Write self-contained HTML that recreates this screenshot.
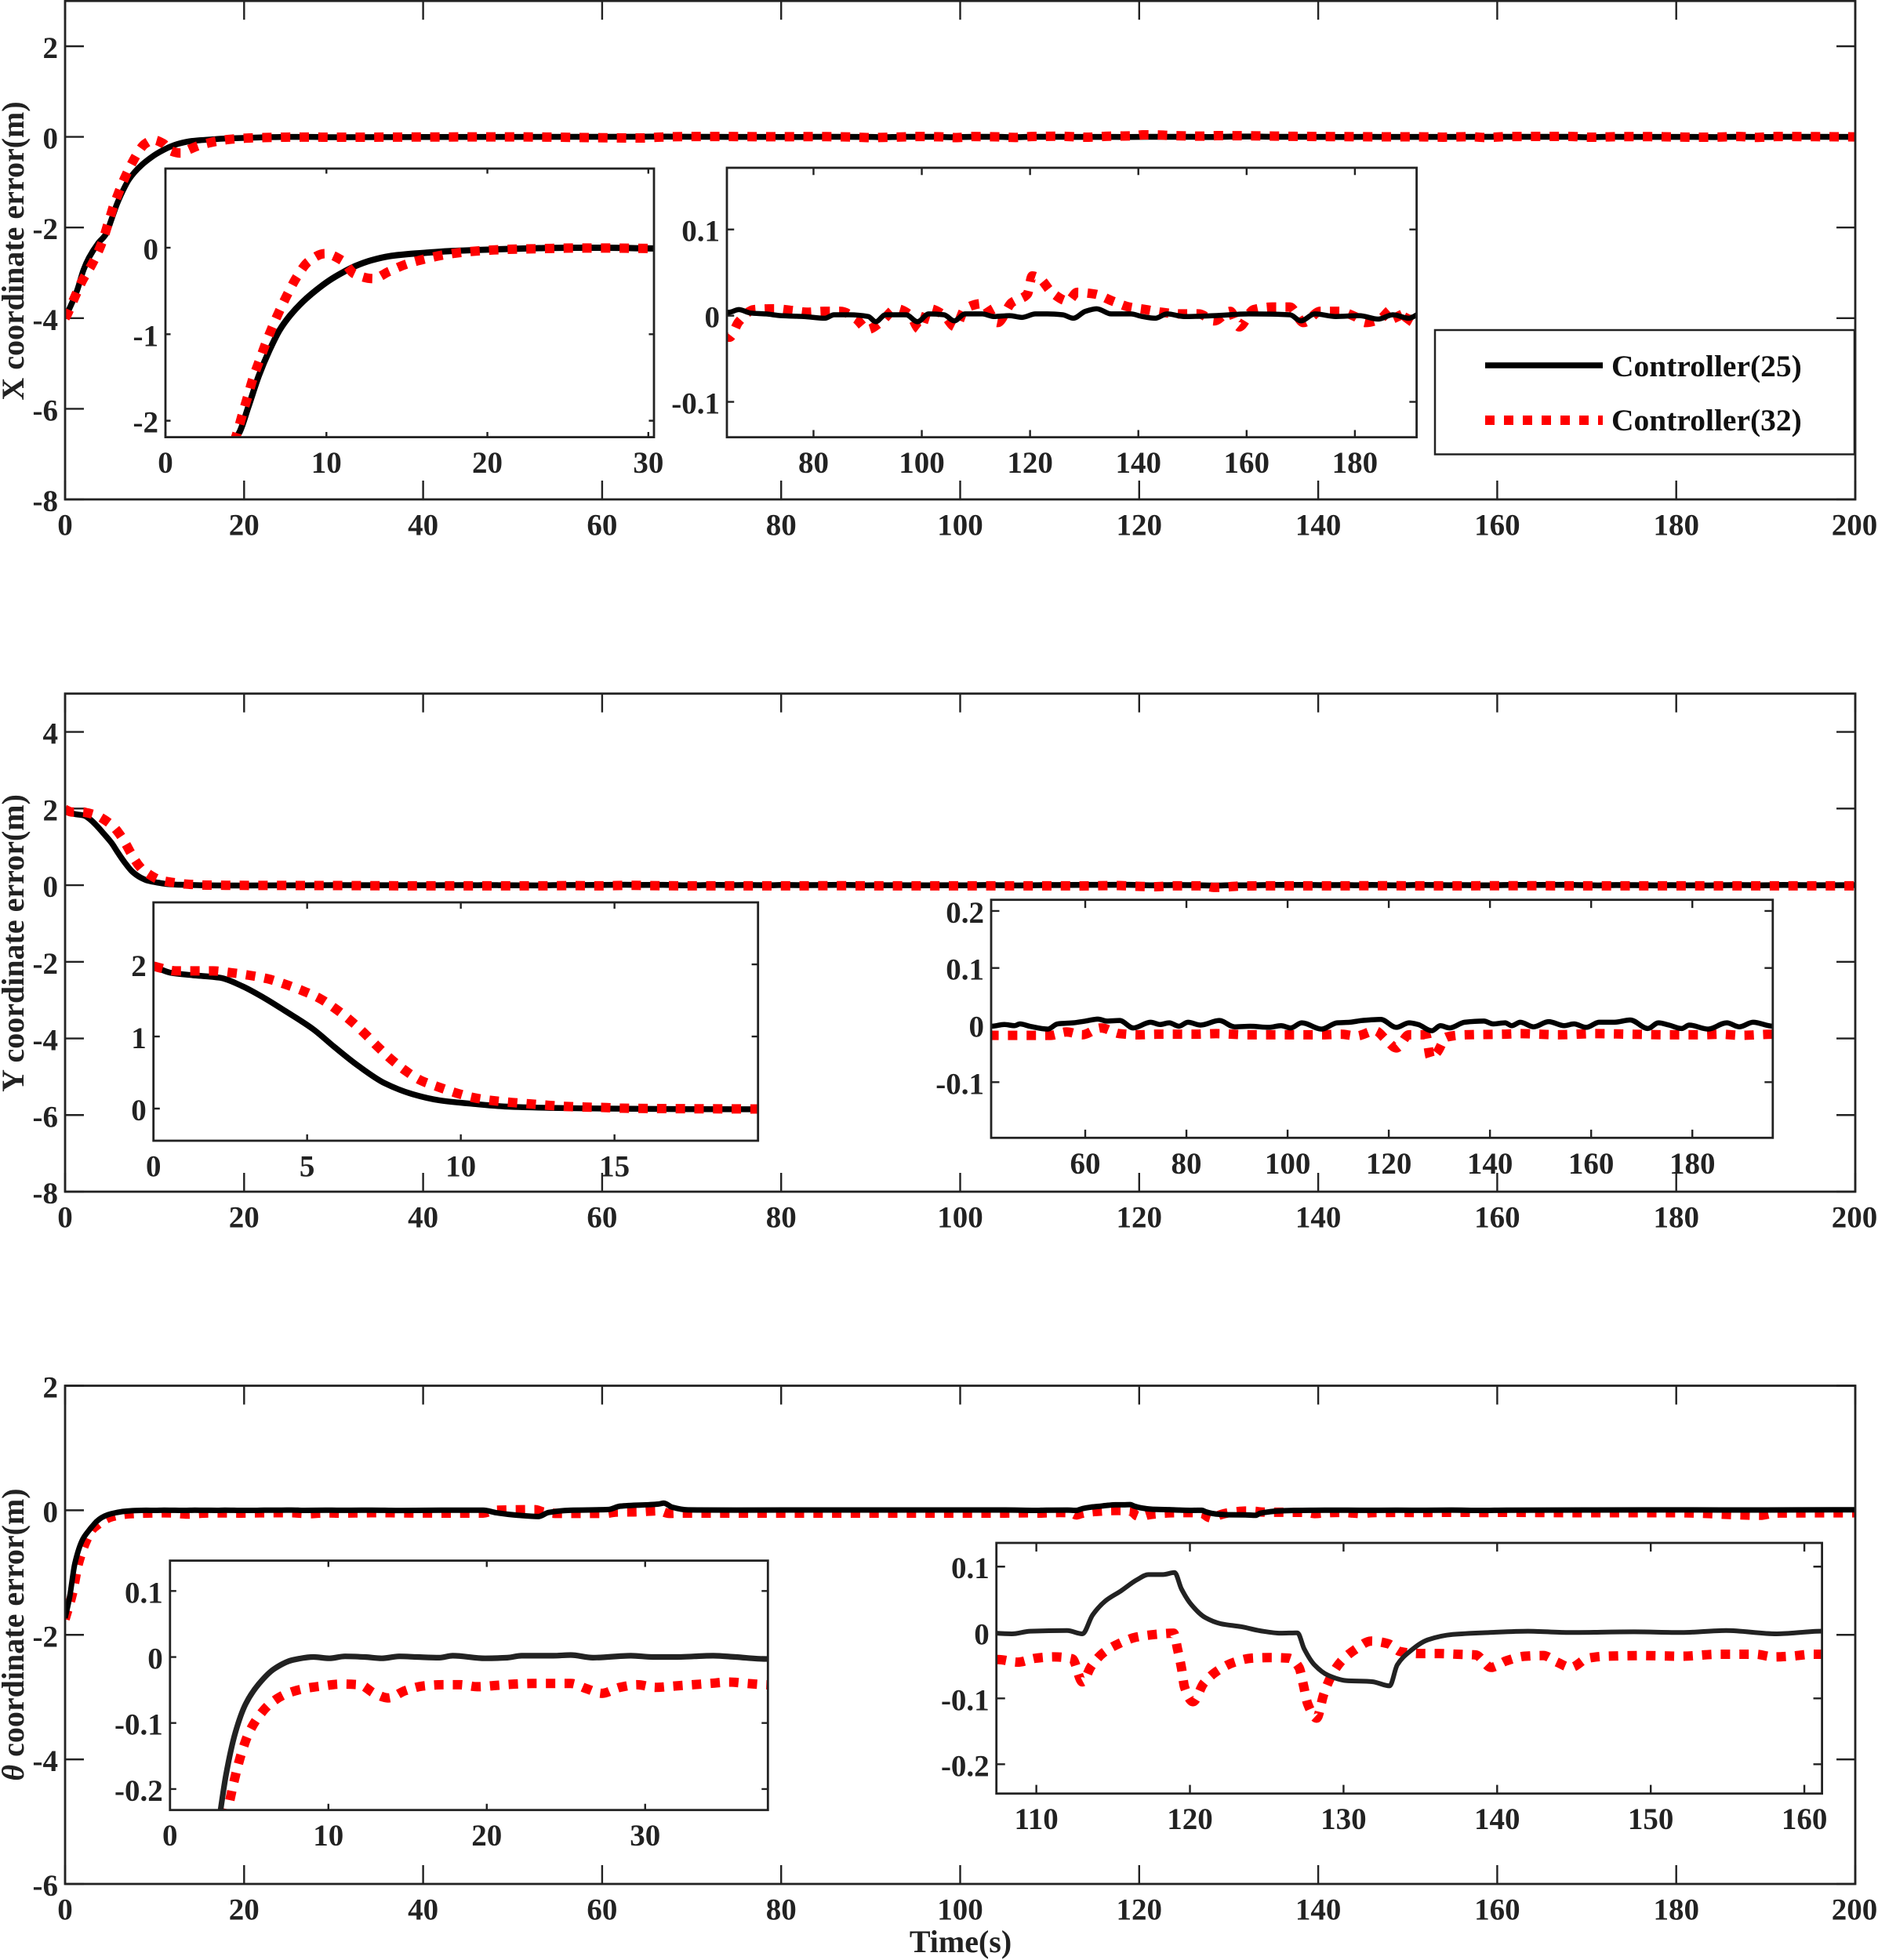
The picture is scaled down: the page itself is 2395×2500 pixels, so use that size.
<!DOCTYPE html>
<html lang="en">
<head>
<meta charset="utf-8">
<title>Coordinate error comparison</title>
<style>
html,body{margin:0;padding:0;background:#fff;overflow:hidden;}
svg{display:block;}
text{font-family:"Liberation Serif","DejaVu Serif",serif;font-weight:bold;fill:#222;}
.tick{font-size:39px;}
.lab{font-size:40px;}
.leg{font-size:39.5px;fill:#111;}
</style>
</head>
<body>
<svg id="chart" xmlns="http://www.w3.org/2000/svg" width="2395" height="2500" viewBox="0 0 2395 2500">
  <rect x="0" y="0" width="2395" height="2500" fill="#fff"/>
  <g id="plots"></g>
  <text class="lab" text-anchor="middle" transform="translate(30,320) rotate(-90)">X coordinate error(m)</text>
  <text class="lab" text-anchor="middle" transform="translate(30,1203) rotate(-90)">Y coordinate error(m)</text>
  <text class="lab" text-anchor="middle" transform="translate(30,2085) rotate(-90)"><tspan font-style="italic">θ</tspan> coordinate error(m)</text>
  <text class="lab" text-anchor="middle" x="1225" y="2490">Time(s)</text>
  <g>
    <rect x="1830" y="421" width="535" height="158.5" fill="#fff" stroke="#222" stroke-width="2.5"/>
    <line x1="1894" y1="466" x2="2044" y2="466" stroke="#000" stroke-width="7.5"/>
    <text class="leg" x="2055" y="480">Controller(25)</text>
    <line x1="1894" y1="536" x2="2044" y2="536" stroke="#f00" stroke-width="12" stroke-dasharray="12 12"/>
    <text class="leg" x="2055" y="549">Controller(32)</text>
  </g>
</svg>
<script>
// ---- X coordinate error data ----
const xCtrl25Time = [0,1.34,2.07,2.66,3.68,4.58,5.15,5.8,6.45,7.1,7.74,8.56,9.37,10.18,10.99,11.8,12.78,13.9,15.05,16.35,17.8,20.4,23.2,25.2,27.4,30.2,40,50,64.5,66.2,68.4,71.2,74,78.2,82.1,83.8,86.6,90.1,91.5,93.3,97.1,99.2,101.3,104.1,106,108,111.2,113.3,116.2,118.5,121,123.2,126,128,130.2,132.3,135,138.6,140.7,143.1,145.3,148.5,154,160.4,168,170,172.6,176.5,180.8,184.3,187,190,191.7,200];
const xCtrl25Err = [-4,-3.39,-2.93,-2.67,-2.35,-2.14,-1.84,-1.48,-1.19,-0.95,-0.784,-0.62,-0.49,-0.378,-0.288,-0.212,-0.146,-0.098,-0.074,-0.056,-0.038,-0.02,-0.005,0,0,-0.008,-0.002,0,0.004,0.007,0.003,0.002,0,-0.001,-0.003,0.001,0.001,-0.001,-0.007,0.001,0.001,-0.007,0.002,0.001,-0.006,0.002,0.002,-0.001,0,-0.002,0.002,0.002,0.001,-0.003,0.005,0.008,0.002,0.002,-0.001,-0.003,0.002,-0.001,0,0.002,0.001,-0.006,0.002,-0.001,0,-0.004,0.001,-0.003,0.002,0];
const xCtrl32Time = [0,0.23,1.05,1.93,2.95,3.88,4.47,4.79,5.11,5.44,5.83,6.23,6.66,7.13,7.63,8.18,8.88,9.9,10.96,11.75,12.9,13.9,15,16.1,17.2,18.3,19.5,20.6,21.8,23,24,25.2,27.4,30,40,50,64.5,66.2,69,72.8,76,78.8,82,85,87.9,90,92.5,95.3,97.8,99.6,101.4,104,106.2,108,111.2,114,116.6,119.5,120.4,121.8,124,127,128.7,132,135.2,138.3,141.4,144.2,147.7,151.2,154,157,158.6,161.3,164.7,168,170.5,173.6,177.1,180,182,184.6,187,188.9,191.2,200];
const xCtrl32Err = [-4,-3.92,-3.55,-3.17,-2.83,-2.45,-2.13,-1.92,-1.72,-1.51,-1.31,-1.107,-0.908,-0.712,-0.52,-0.333,-0.161,-0.068,-0.146,-0.303,-0.357,-0.273,-0.188,-0.131,-0.086,-0.056,-0.036,-0.024,-0.016,-0.012,-0.008,-0.004,-0.004,-0.008,-0.003,0,-0.025,-0.007,0.007,0.008,0.006,0.004,0.005,0.005,-0.004,-0.016,-0.007,0.008,0.001,-0.016,0.008,0.001,-0.013,0.008,0.014,-0.008,0.015,0.025,0.046,0.043,0.027,0.017,0.027,0.025,0.017,0.01,0.007,0.004,0.002,0.002,-0.006,0.005,-0.013,0.007,0.01,0.01,-0.008,0.005,0.005,-0.001,-0.008,-0.004,0.008,-0.011,0.008,0];

// ---- Y coordinate error data ----
const yCtrl25Time = [0,0.55,1.27,2.16,2.88,3.6,4.3,5.2,5.9,6.64,7.53,8.43,9.3,10.4,11.6,12.9,14.7,19.5,30,41.5,44,46,47.1,49,52.6,54.5,57.6,60,62.5,64.3,66.8,69.5,72.9,74.8,76.6,78.5,80.3,82.8,86.5,89.5,92.6,96.3,98.7,100.6,102.8,106.7,109.8,112.3,114.7,118.4,121.5,124,125.8,128.5,130.2,132,135,138.8,140.6,143,144.3,146,148.6,151.6,154.7,156.6,159,161.6,164.6,167.7,171.2,173.3,175.4,177.9,179.4,183.1,186.8,189.3,192,195.9,200];
const yCtrl25Err = [1.975,1.885,1.85,1.815,1.7,1.535,1.35,1.1,0.85,0.6,0.35,0.2,0.115,0.065,0.025,0.01,0,-0.01,0,-0.002,0.001,-0.001,0.002,-0.002,-0.007,0.002,0.004,0.007,0.0105,0.007,0.008,-0.005,0.005,0.001,0.004,-0.002,0.005,0,0.008,-0.003,-0.002,-0.004,-0.001,-0.005,0.004,-0.007,0.004,0.005,0.008,0.01,-0.004,0.004,0.001,-0.01,-0.001,-0.005,0.005,0.007,0.002,0.004,-0.001,0.005,-0.003,0.006,-0.001,0.002,-0.004,0.005,0.005,0.009,-0.006,0.004,0,-0.006,0,-0.007,0.004,-0.003,0.005,-0.002,0];
const yCtrl32Time = [0,0.73,1.3,1.93,2.52,3.1,3.72,4.28,4.85,5.42,5.92,6.4,6.85,7.28,7.73,8.2,8.7,9.27,9.86,10.43,11.04,11.65,12.24,12.85,13.4,14.06,14.65,15.26,16.5,19.5,30,41.5,46,53.2,56.3,59.4,63.1,66.8,70.5,74.2,81.5,85.9,92.2,99.6,107,110.5,113.6,117.3,119.5,121.5,124,127.3,128.3,129.6,131.4,135.1,142.4,146,153.5,160.8,167.8,175,182,185.8,189.5,195.9,200];
const yCtrl32Err = [1.975,1.91,1.91,1.91,1.885,1.85,1.8,1.725,1.635,1.525,1.385,1.225,1.05,0.865,0.685,0.525,0.39,0.3,0.215,0.15,0.11,0.085,0.065,0.045,0.03,0.02,0.015,0.005,0,-0.005,-0.01,-0.018,-0.018,-0.018,-0.012,-0.017,-0.005,-0.015,-0.017,-0.016,-0.016,-0.015,-0.017,-0.017,-0.017,-0.016,-0.019,-0.01,-0.026,-0.04,-0.017,-0.017,-0.058,-0.047,-0.021,-0.017,-0.016,-0.015,-0.017,-0.015,-0.016,-0.017,-0.017,-0.016,-0.018,-0.016,-0.016];

// ---- Theta coordinate error data ----
const thetaCtrl25Time = [0,0.5,1.1,2,2.8,3.21,3.54,4.12,4.78,5.6,6.6,7.75,9.07,10.06,11.05,12.3,13.36,14.5,15.6,17,17.85,19.9,21.3,22.2,24.2,25.3,26.7,29.1,30.5,31.9,34.3,35.7,37.6,42,46.7,48.2,50.6,52.9,54,56.4,60.7,62,66.3,66.9,67.8,69.6,75,85,95,105,108.4,109.6,112,113,113.66,114.5,115.5,116.55,117.3,118.25,119,119.45,120.1,121,122,123.36,124.55,125.9,127,127.44,128.1,129,130.16,131.86,133,133.5,134.3,135.5,137.1,139.5,142,144.6,148.9,152,154.9,158.2,161,170,180,190,200];
const thetaCtrl25Err = [-1.73,-1.4,-0.85,-0.46,-0.3,-0.229,-0.178,-0.115,-0.071,-0.041,-0.0176,-0.0045,0,-0.002,0.001,0,-0.002,0.001,0,-0.001,0.002,-0.002,-0.001,0.002,0.002,0.003,-0.001,0.002,0,0,0.002,0,-0.003,0.001,0.001,-0.04,-0.08,-0.1,-0.036,0,0.012,0.066,0.1,0.115,0.05,0.006,0.003,0.005,0.004,0.004,-0.002,0.002,0.003,-0.002,0.0265,0.048,0.063,0.08,0.088,0.088,0.091,0.066,0.042,0.0226,0.0134,0.0087,0.0027,-0.001,-0.0005,-0.025,-0.049,-0.065,-0.073,-0.0746,-0.081,-0.049,-0.029,-0.011,-0.003,0,0.002,0,0.001,0,0.003,-0.002,0.002,0.004,0.006,0.005,0.008];
const thetaCtrl32Time = [0,0.8,1.5,2.4,3.08,3.71,3.95,4.23,4.56,4.96,5.55,6.33,7.32,8.46,9.6,10.79,11.97,12.9,13.77,14.85,15.95,17.16,18.3,19.4,20.6,21.76,22.9,24.1,25.3,26.3,27.27,28.4,29.5,30.66,31.8,33,34.1,35.3,36.4,37.6,42,46.7,48,52.5,53.5,55,60.5,61.5,64,66.3,67.5,69,75,85,95,105,107.5,108.8,109.96,111.16,112.34,113,113.55,114.35,115.37,116.5,117.7,118.94,119.2,119.45,119.65,120.2,120.9,121.8,122.9,124,125.2,126.45,127.1,127.4,127.66,128.25,128.7,129.14,129.8,130.75,131.8,132.9,133.7,134.9,136.2,137.4,138.6,139.6,140.6,141.8,143,143.9,144.8,145.9,147.1,149.5,152,154.4,156.8,158,159.1,160.5,170,180,189.4,191,200];
const thetaCtrl32Err = [-1.75,-1.35,-0.85,-0.48,-0.3,-0.225,-0.198,-0.17,-0.142,-0.116,-0.0917,-0.0707,-0.056,-0.048,-0.044,-0.041,-0.042,-0.055,-0.062,-0.051,-0.044,-0.042,-0.042,-0.045,-0.043,-0.041,-0.04,-0.04,-0.04,-0.048,-0.055,-0.046,-0.042,-0.046,-0.044,-0.042,-0.04,-0.038,-0.04,-0.042,-0.045,-0.045,0,0.01,-0.03,-0.05,-0.05,-0.03,-0.025,-0.008,-0.05,-0.045,-0.045,-0.045,-0.045,-0.045,-0.041,-0.045,-0.039,-0.037,-0.04,-0.075,-0.052,-0.031,-0.017,-0.007,-0.003,-0.001,-0.026,-0.054,-0.083,-0.105,-0.077,-0.058,-0.045,-0.039,-0.038,-0.039,-0.053,-0.081,-0.108,-0.13,-0.0945,-0.069,-0.045,-0.026,-0.013,-0.017,-0.029,-0.032,-0.032,-0.033,-0.034,-0.053,-0.043,-0.036,-0.035,-0.045,-0.053,-0.039,-0.036,-0.035,-0.036,-0.033,-0.033,-0.037,-0.036,-0.033,-0.04,-0.04,-0.08,-0.045,-0.04];

// ---- Tick labels ----
const timeTicks = [0,20,40,60,80,100,120,140,160,180,200];
const xMainYTicks = [-8,-6,-4,-2,0,2];
const yMainYTicks = [-8,-6,-4,-2,0,2,4];
const thetaMainYTicks = [-6,-4,-2,0,2];
const xInsetEarlyXTicks = [0,10,20,30];
const xInsetEarlyYTicks = [-2,-1,0];
const xInsetLateXTicks = [80,100,120,140,160,180];
const xInsetLateYTicks = [-0.1,0,0.1];
const yInsetEarlyXTicks = [0,5,10,15];
const yInsetEarlyYTicks = [0,1,2];
const yInsetLateXTicks = [60,80,100,120,140,160,180];
const yInsetLateYTicks = [-0.1,0,0.1,0.2];
const thetaInsetEarlyXTicks = [0,10,20,30];
const thetaInsetEarlyYTicks = [-0.2,-0.1,0,0.1];
const thetaInsetLateXTicks = [110,120,130,140,150,160];
const thetaInsetLateYTicks = [-0.2,-0.1,0,0.1];

const NS = 'http://www.w3.org/2000/svg';
const root = document.getElementById('plots');
let clipCount = 0;

function mk(parent, tag, attrs) {
  const el = document.createElementNS(NS, tag);
  for (const k in attrs) el.setAttribute(k, attrs[k]);
  parent.appendChild(el);
  return el;
}

// Monotone cubic path through the data points (no overshoot at sharp corners).
function curveThrough(px, py) {
  const n = px.length;
  if (n < 2) return '';
  const d = [], m = [];
  for (let i = 0; i < n - 1; i++) d.push((py[i + 1] - py[i]) / (px[i + 1] - px[i]));
  m.push(d[0]);
  for (let i = 1; i < n - 1; i++) {
    if (d[i - 1] * d[i] <= 0) { m.push(0); continue; }
    const h0 = px[i] - px[i - 1], h1 = px[i + 1] - px[i];
    m.push(3 * (h0 + h1) / ((2 * h1 + h0) / d[i - 1] + (h1 + 2 * h0) / d[i]));
  }
  m.push(d[n - 2]);
  let path = 'M' + px[0].toFixed(2) + ' ' + py[0].toFixed(2);
  for (let i = 0; i < n - 1; i++) {
    const h = (px[i + 1] - px[i]) / 3;
    path += 'C' + (px[i] + h).toFixed(2) + ' ' + (py[i] + m[i] * h).toFixed(2) + ' ' +
      (px[i + 1] - h).toFixed(2) + ' ' + (py[i + 1] - m[i + 1] * h).toFixed(2) + ' ' +
      px[i + 1].toFixed(2) + ' ' + py[i + 1].toFixed(2);
  }
  return path;
}

function drawLine(group, ax, sx, sy, t, v, kind, clipId) {
  // Keep only points belonging to a segment that overlaps the axes window.
  const overlaps = i => i >= 0 && i + 1 < t.length &&
    Math.max(t[i], t[i + 1]) >= ax.xMin && Math.min(t[i], t[i + 1]) <= ax.xMax &&
    Math.max(v[i], v[i + 1]) >= ax.yMin && Math.min(v[i], v[i + 1]) <= ax.yMax;
  const px = [], py = [];
  for (let i = 0; i < t.length; i++) {
    if (overlaps(i - 1) || overlaps(i)) { px.push(sx(t[i])); py.push(sy(v[i])); }
  }
  const isRed = kind === 'red';
  const line = mk(group, 'path', {
    d: curveThrough(px, py),
    fill: 'none',
    stroke: isRed ? '#ff0000' : (ax.blackColor || '#000'),
    'stroke-width': isRed ? 12 : (ax.blackWidth || 7.5),
    'stroke-linejoin': 'round',
    'clip-path': 'url(#' + clipId + ')'
  });
  if (isRed) line.setAttribute('stroke-dasharray', '12 11.8');
  
  
}

function drawAxes(ax) {
  const sx = v => ax.left + (v - ax.xMin) / (ax.xMax - ax.xMin) * (ax.right - ax.left);
  const sy = v => ax.bottom - (v - ax.yMin) / (ax.yMax - ax.yMin) * (ax.bottom - ax.top);
  const group = mk(root, 'g', {});
  
  

  const clipId = 'clip' + (clipCount++);
  const clip = mk(group, 'clipPath', {id: clipId});
  mk(clip, 'rect', {x: ax.left, y: ax.top, width: ax.right - ax.left, height: ax.bottom - ax.top});

  const bg = mk(group, 'rect', {x: ax.left, y: ax.top, width: ax.right - ax.left, height: ax.bottom - ax.top, fill: '#fff'});
  
  

  const tl = 0.0105 * Math.max(ax.right - ax.left, ax.bottom - ax.top);
  ax.xTicks.forEach(v => {
    const x = sx(v);
    const tick = mk(group, 'path', {d: 'M' + x + ' ' + ax.bottom + 'v' + (-tl) + 'M' + x + ' ' + ax.top + 'v' + tl, stroke: '#222', 'stroke-width': 2.4, fill: 'none'});
    
    
    const label = mk(group, 'text', {x: Math.min(x, 2365), y: ax.bottom + 45.5, 'text-anchor': 'middle', class: 'tick'});
    label.textContent = String(v);
    
    
  });
  ax.yTicks.forEach(v => {
    const y = sy(v);
    const tick = mk(group, 'path', {d: 'M' + ax.left + ' ' + y + 'h' + tl + 'M' + ax.right + ' ' + y + 'h' + (-tl), stroke: '#222', 'stroke-width': 2.4, fill: 'none'});
    
    
    const label = mk(group, 'text', {x: ax.left - 9, y: y + 15, 'text-anchor': 'end', class: 'tick'});
    label.textContent = String(v);
    
    
  });

  if (ax.blackOnTop) {
    drawLine(group, ax, sx, sy, ax.redT, ax.redV, 'red', clipId);
    drawLine(group, ax, sx, sy, ax.blackT, ax.blackV, 'black', clipId);
  } else {
    drawLine(group, ax, sx, sy, ax.blackT, ax.blackV, 'black', clipId);
    drawLine(group, ax, sx, sy, ax.redT, ax.redV, 'red', clipId);
  }

  const box = mk(group, 'rect', {x: ax.left, y: ax.top, width: ax.right - ax.left, height: ax.bottom - ax.top, fill: 'none', stroke: '#222', 'stroke-width': 2.8});
  
  
}

const xSeries = {blackT: xCtrl25Time, blackV: xCtrl25Err, redT: xCtrl32Time, redV: xCtrl32Err};
const ySeries = {blackT: yCtrl25Time, blackV: yCtrl25Err, redT: yCtrl32Time, redV: yCtrl32Err};
const thetaSeries = {blackT: thetaCtrl25Time, blackV: thetaCtrl25Err, redT: thetaCtrl32Time, redV: thetaCtrl32Err};

drawAxes(Object.assign({name: 'x-error-plot', left: 83, right: 2366, top: 1.2, bottom: 637, xMin: 0, xMax: 200, yMin: -8, yMax: 3, xTicks: timeTicks, yTicks: xMainYTicks}, xSeries));
drawAxes(Object.assign({name: 'x-error-inset-early', left: 211, right: 834, top: 215, bottom: 557.6, xMin: 0, xMax: 30.35, yMin: -2.19, yMax: 0.915, xTicks: xInsetEarlyXTicks, yTicks: xInsetEarlyYTicks, blackWidth: 8}, xSeries));
drawAxes(Object.assign({name: 'x-error-inset-late', left: 927, right: 1806.6, top: 214, bottom: 557.7, xMin: 64, xMax: 191.4, yMin: -0.141, yMax: 0.1715, xTicks: xInsetLateXTicks, yTicks: xInsetLateYTicks, blackOnTop: true, blackWidth: 6.5}, xSeries));

drawAxes(Object.assign({name: 'y-error-plot', left: 83, right: 2366, top: 884.7, bottom: 1520, xMin: 0, xMax: 200, yMin: -8, yMax: 5, xTicks: timeTicks, yTicks: yMainYTicks}, ySeries));
drawAxes(Object.assign({name: 'y-error-inset-early', left: 195.7, right: 966.7, top: 1151, bottom: 1455, xMin: 0, xMax: 19.67, yMin: -0.446, yMax: 2.86, xTicks: yInsetEarlyXTicks, yTicks: yInsetEarlyYTicks}, ySeries));
drawAxes(Object.assign({name: 'y-error-inset-late', left: 1264, right: 2260.8, top: 1147.7, bottom: 1451.3, xMin: 41.4, xMax: 195.9, yMin: -0.1975, yMax: 0.2195, xTicks: yInsetLateXTicks, yTicks: yInsetLateYTicks, blackOnTop: true, blackWidth: 6.5}, ySeries));

drawAxes(Object.assign({name: 'theta-error-plot', left: 83, right: 2366, top: 1767.5, bottom: 2403, xMin: 0, xMax: 200, yMin: -6, yMax: 2, xTicks: timeTicks, yTicks: thetaMainYTicks, blackOnTop: true, blackWidth: 7}, thetaSeries));
drawAxes(Object.assign({name: 'theta-error-inset-early', left: 216.8, right: 979.3, top: 1990.6, bottom: 2308.7, xMin: 0, xMax: 37.75, yMin: -0.2318, yMax: 0.146, xTicks: thetaInsetEarlyXTicks, yTicks: thetaInsetEarlyYTicks, blackOnTop: true, blackColor: '#222', blackWidth: 7.2}, thetaSeries));
drawAxes(Object.assign({name: 'theta-error-inset-late', left: 1270.7, right: 2323.6, top: 1968, bottom: 2287.7, xMin: 107.4, xMax: 161.15, yMin: -0.2445, yMax: 0.136, xTicks: thetaInsetLateXTicks, yTicks: thetaInsetLateYTicks, blackOnTop: true, blackColor: '#222', blackWidth: 6}, thetaSeries));
</script>
</body>
</html>
